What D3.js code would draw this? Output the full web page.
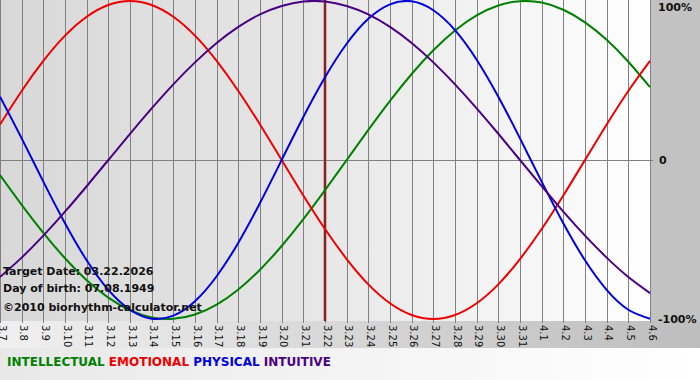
<html lang="en">
  <head>
      <meta charset="utf-8" />
      <title>Biorhythm</title>
      <script src="https://d3js.org/d3.v7.min.js"></script>
      <style>
        body { margin: 0; padding: 0; background: #ffffff; }
        svg { display: block; }
        .info { font-family: "DejaVu Sans", Verdana, sans-serif; font-size: 11px; font-weight: bold; fill: #111111; }
        .pct { font-family: "DejaVu Sans", Verdana, sans-serif; font-size: 11px; font-weight: bold; fill: #111111; }
        .tick { font-family: "DejaVu Sans", Verdana, sans-serif; font-size: 10px; fill: #111111; }
        .legend { font-family: "DejaVu Sans", Verdana, sans-serif; font-size: 12px; font-weight: bold; }
      </style>
  </head>
  <body>
    <div id="svgContainer"></div>
  </body>
  <script>
    var width = 700,   // Canvas dimension
        height = 380;

    var days = ["3.7","3.8","3.9","3.10","3.11","3.12","3.13","3.14","3.15","3.16","3.17","3.18","3.19","3.20","3.21",
                "3.22","3.23","3.24","3.25","3.26","3.27","3.28","3.29","3.30","3.31","4.1","4.2","4.3","4.4","4.5","4.6"];

    var physical = [0.398, 0.136, -0.136, -0.398, -0.631, -0.817, -0.942, -0.998, -0.979, -0.888, -0.731, -0.520, -0.270, 0,
                    0.270, 0.520, 0.731, 0.888, 0.979, 0.998, 0.942, 0.817, 0.631, 0.398, 0.136, -0.136, -0.398, -0.631,
                    -0.817, -0.942, -0.998];
    var emotional = [0.223, 0.434, 0.623, 0.782, 0.901, 0.975, 1.000, 0.975, 0.901, 0.782, 0.623, 0.434, 0.223, 0,
                     -0.223, -0.434, -0.623, -0.782, -0.901, -0.975, -1.000, -0.975, -0.901, -0.782, -0.623, -0.434,
                     -0.223, 0, 0.223, 0.434, 0.623];
    var intellectual = [-0.095, -0.282, -0.458, -0.618, -0.756, -0.866, -0.945, -0.990, -0.999, -0.972, -0.910, -0.815,
                        -0.690, -0.541, -0.372, -0.189, 0, 0.189, 0.372, 0.541, 0.690, 0.815, 0.910, 0.972, 0.999, 0.990,
                        0.945, 0.866, 0.756, 0.618, 0.458];
    var intuitive = [-0.736, -0.614, -0.476, -0.325, -0.165, 0, 0.165, 0.325, 0.476, 0.614, 0.736, 0.837, 0.916, 0.969,
                     0.997, 0.997, 0.969, 0.916, 0.837, 0.736, 0.614, 0.476, 0.325, 0.165, 0, -0.165, -0.325, -0.476,
                     -0.614, -0.736, -0.837];

    var seriesNames = ["INTELLECTUAL", "EMOTIONAL", "PHYSICAL", "INTUITIVE"];
    var targetDay = "3.22";
    var yTicks = [1, 0, -1];
    var infoLines = ["Target Date: 03.22.2026", "Day of birth: 07.08.1949", "\u00a92010 biorhythm-calculator.net"];

    var colors = {"INTELLECTUAL": "#008000", "EMOTIONAL": "#ee0000", "PHYSICAL": "#0000dd", "INTUITIVE": "#4b0082"};
    var series = [
        {"name": "INTELLECTUAL", "values": intellectual},
        {"name": "EMOTIONAL",    "values": emotional},
        {"name": "PHYSICAL",     "values": physical},
        {"name": "INTUITIVE",    "values": intuitive}
    ];

    var plotW = 650,
        plotH = 321;

    //Create SVG element
    var svg = d3.select("#svgContainer")
                .append("svg")
                .attr("width", width)
                .attr("height", height);

    var defs = svg.append("defs");
    var plotGrad = defs.append("linearGradient").attr("id", "plotGrad");
    plotGrad.append("stop").attr("offset", "0%").attr("stop-color", "#d8d8d8");
    plotGrad.append("stop").attr("offset", "45%").attr("stop-color", "#e5e5e5");
    plotGrad.append("stop").attr("offset", "100%").attr("stop-color", "#ffffff");
    var bandGrad = defs.append("linearGradient").attr("id", "bandGrad");
    bandGrad.append("stop").attr("offset", "0%").attr("stop-color", "#f0f0f0");
    bandGrad.append("stop").attr("offset", "100%").attr("stop-color", "#bdbdbd");
    var legendGrad = defs.append("linearGradient").attr("id", "legendGrad");
    legendGrad.append("stop").attr("offset", "0%").attr("stop-color", "#e8e8e8");
    legendGrad.append("stop").attr("offset", "100%").attr("stop-color", "#ffffff");

    // Scales
    var x = d3.scalePoint()
              .domain(days)
              .range([0, plotW]);
    var y = d3.scaleLinear()
              .domain([-1, 1])
              .range([plotH - 2, 1]);

    // Backgrounds
    svg.append("rect").attr("x", 0).attr("y", plotH).attr("width", width).attr("height", 27)
       .attr("fill", "url(#bandGrad)");
    svg.append("rect").attr("x", 0).attr("y", plotH + 27).attr("width", width).attr("height", height - plotH - 27)
       .attr("fill", "url(#legendGrad)");
    svg.append("rect").attr("x", plotW + 1).attr("y", 0).attr("width", width - plotW - 1).attr("height", plotH)
       .attr("fill", "#c2c2c2");
    svg.append("rect").attr("x", 0).attr("y", 0).attr("width", plotW + 1).attr("height", plotH)
       .attr("fill", "url(#plotGrad)");

    // Vertical grid lines with tick labels
    var xAxis = d3.axisBottom(x).tickSize(plotH + 2).tickPadding(0);
    var gx = svg.append("g").call(xAxis);
    gx.select(".domain").remove();
    gx.selectAll(".tick line")
      .attr("stroke", "#808080")
      .attr("shape-rendering", "crispEdges");
    gx.selectAll(".tick text")
      .attr("class", "tick")
      .attr("font-family", null)
      .attr("font-size", null)
      .attr("fill", null)
      .attr("text-anchor", "start")
      .attr("dy", null)
      .attr("y", 0)
      .attr("x", 0)
      .attr("transform", "translate(1," + (plotH + 4) + ") rotate(90)")
      .attr("dominant-baseline", "middle");

    // Zero line
    svg.append("line")
       .attr("x1", 0).attr("x2", plotW + 3)
       .attr("y1", y(0)).attr("y2", y(0))
       .attr("stroke", "#808080")
       .attr("shape-rendering", "crispEdges");

    // Target date marker
    svg.append("line")
       .attr("x1", x(targetDay)).attr("x2", x(targetDay))
       .attr("y1", 0).attr("y2", plotH)
       .attr("stroke", "#c07070")
       .attr("stroke-width", 3);
    svg.append("line")
       .attr("x1", x(targetDay)).attr("x2", x(targetDay))
       .attr("y1", 0).attr("y2", plotH)
       .attr("stroke", "#6e0c0c")
       .attr("stroke-width", 1.5);

    // Curves
    var line = d3.line()
                 .x(function(d, i) { return x(days[i]); })
                 .y(function(d) { return y(d); })
                 .curve(d3.curveNatural);

    svg.selectAll("path.curve")
       .data(series)
       .enter().append("path")
       .attr("class", "curve")
       .attr("d", function(d) { return line(d.values); })
       .attr("fill", "none")
       .attr("stroke", function(d) { return colors[d.name]; })
       .attr("stroke-width", 2);

    // Info text
    svg.selectAll("text.info")
       .data(infoLines)
       .enter().append("text")
       .attr("class", "info")
       .attr("x", 3)
       .attr("y", function(d, i) { return [275, 292, 311][i]; })
       .text(function(d) { return d; });

    // Percent labels on the right
    svg.selectAll("text.pct")
       .data(yTicks)
       .enter().append("text")
       .attr("class", "pct")
       .attr("x", function(d) { return d === 0 ? 659 : 658; })
       .attr("y", function(d) { return Math.min(Math.max(y(d), 7), plotH + 1) + 4; })
       .text(function(d) { return d === 0 ? "0" : d3.format(".0%")(d).replace("\u2212", "-"); });

    // Legend
    var legend = svg.append("text")
                    .attr("class", "legend")
                    .attr("x", 7)
                    .attr("y", 366);
    legend.selectAll("tspan")
          .data(seriesNames)
          .enter().append("tspan")
          .attr("fill", function(d) { return colors[d]; })
          .text(function(d, i) { return (i > 0 ? " " : "") + d; });
  </script>
</html>
